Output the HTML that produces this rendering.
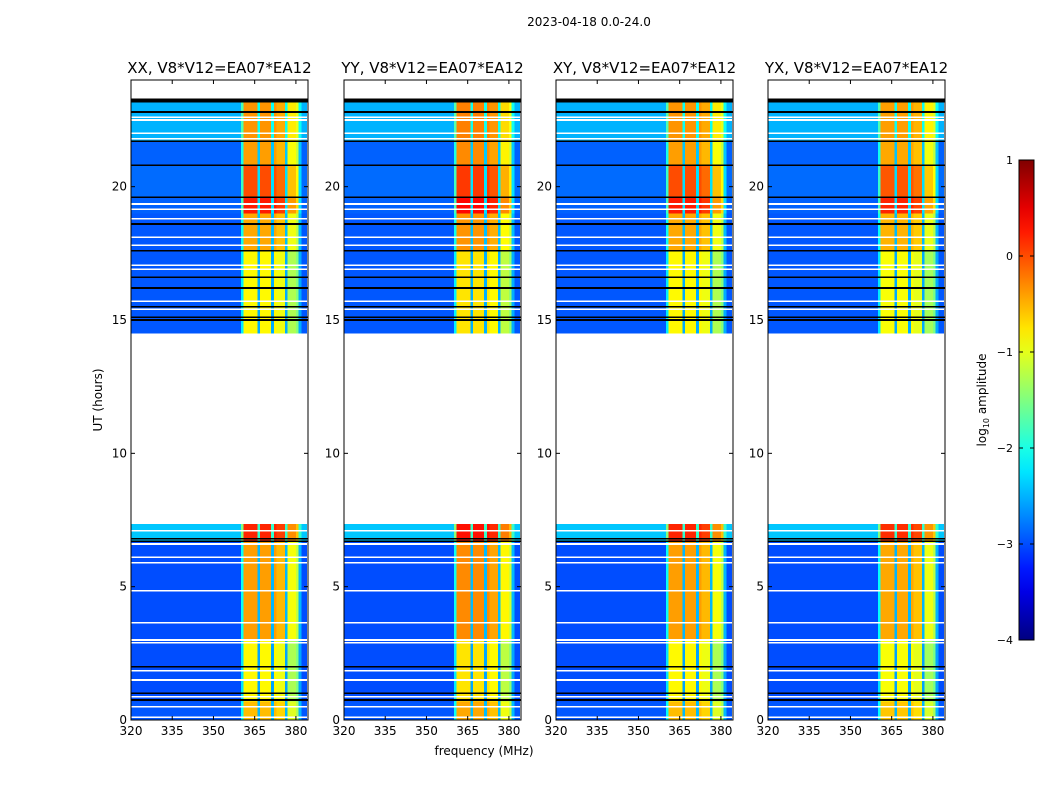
<!DOCTYPE html>
<html><head><meta charset="utf-8"><style>
body{margin:0;background:#fff;}
svg{display:block;font-family:"DejaVu Sans","Liberation Sans",sans-serif;}
</style></head><body>
<svg id="fig" width="1050" height="800" viewBox="0 0 1050 800" xmlns="http://www.w3.org/2000/svg">
<rect width="1050" height="800" fill="#fff"/>
<text x="589" y="26" font-size="12" text-anchor="middle">2023-04-18 0.0-24.0</text>
<text transform="translate(102,400) rotate(-90)" font-size="12" text-anchor="middle">UT (hours)</text>
<text x="484" y="755" font-size="12" text-anchor="middle">frequency (MHz)</text>
<g id="panels"></g>
<g id="cbar"></g>
</svg>
<script>
// ---- data ----
const panelTitles = ["XX, V8*V12=EA07*EA12","YY, V8*V12=EA07*EA12","XY, V8*V12=EA07*EA12","YX, V8*V12=EA07*EA12"];
const panelBandAdj = [0, 0.1, 0, -0.05];
// time blocks: [startHour, endHour, baseline log-amp, band log-amp]
const blockStart = [0.0, 0.7, 3.0, 6.7, 14.5, 17.6, 19.0, 19.6, 20.8, 21.7];
const blockEnd   = [0.7, 3.0, 6.7, 7.35, 17.6, 19.0, 19.6, 20.8, 21.7, 23.25];
const blockBase  = [-2.95, -3.0, -3.0, -2.4, -2.95, -2.95, -2.9, -2.85, -2.9, -2.5];
const blockBand  = [-0.55, -0.85, -0.4, 0.2, -0.85, -0.45, 0.25, 0.0, -0.4, -0.35];
// channel profile (1 MHz bins from 320 to 384): band weight
const chanFreq = [];
for (let f = 320; f < 384; f++) chanFreq.push(f);
const chanWeight = [
 0,0,0,0,0,0,0,0,0,0, 0,0,0,0,0,0,0,0,0,0,
 0,0,0,0,0,0,0,0,0,0, 0,0,0,0,0,0,0,0,0,0,
 0.35,1,1,1,1,1,0.2,1,1,1, 1,0.2,1,0.95,0.95,0.95,0.2,0.8,0.8,0.8,
 0.7,0.2,0,0];
// flagged rows (hours)
const whiteFlags = [0.1,0.5,0.87,1.5,1.85,2.9,3.0,3.65,4.85,5.9,6.1,6.6,7.1,15.4,15.7,16.9,17.05,17.8,18.1,18.8,19.15,19.35,21.8,22.0,22.5,22.6];
const blackFlags = [0.75,1.0,2.0,6.7,6.8,15.0,15.1,15.5,16.2,16.6,17.6,18.6,19.6,20.8,21.7,22.8];
const xTicks = [320,335,350,365,380];
const yTicks = [0,5,10,15,20];
const cbarTicks = [-4,-3,-2,-1,0,1];

// ---- helpers ----
const NS = "http://www.w3.org/2000/svg";
function mk(tag, attrs, parent){const e=document.createElementNS(NS,tag);for(const k in attrs)e.setAttribute(k,attrs[k]);parent.appendChild(e);return e;}
function jet(v){let t=(v+4)/5;t=Math.max(0,Math.min(1,t));
 const c=x=>Math.round(255*Math.max(0,Math.min(1,x)));
 const r=c(Math.min(4*t-1.5,-4*t+4.5)),g=c(Math.min(4*t-0.5,-4*t+3.5)),b=c(Math.min(4*t+0.5,-4*t+2.5));
 return `rgb(${r},${g},${b})`;}
const panelX = [131,344,556,768], PW = 177, PY0 = 80, PY1 = 720;
const fMin = 320, fMax = 384.4;
const yOf = h => PY1 - (h/24)*(PY1-PY0);
const panels = document.getElementById("panels");

panelTitles.forEach((title, p) => {
 const x0 = panelX[p];
 const xOf = f => x0 + (f - fMin)/(fMax - fMin)*PW;
 const g = mk("g", {}, panels);
 
 
 const img = mk("g", {"shape-rendering":"crispEdges"}, g);
 
 
 for (let b = 0; b < blockStart.length; b++) {
  const yT = yOf(blockEnd[b]), yB = yOf(blockStart[b]);
  for (let c = 0; c < chanFreq.length; c++) {
   const band = blockBand[b] + panelBandAdj[p];
   const v = blockBase[b] + chanWeight[c]*(band - blockBase[b]);
   const x1 = xOf(chanFreq[c]), x2 = Math.min(xOf(chanFreq[c]+1), x0+PW);
   const r = mk("rect", {x:x1, y:yT, width:x2-x1+0.3, height:yB-yT, fill:jet(v)}, img);
   
   
  }
 }
 whiteFlags.forEach(h => {const l=mk("rect",{x:x0,y:yOf(h)-0.8,width:PW,height:1.6,fill:"#fff"},img);
  
  });
 blackFlags.forEach(h => {const l=mk("rect",{x:x0,y:yOf(h)-0.8,width:PW,height:1.6,fill:"#000"},img);
  
  });
 const top = mk("rect",{x:x0,y:yOf(23.3),width:PW,height:4,fill:"#000"},img);
 
 
 const fr = mk("rect",{x:x0,y:PY0,width:PW,height:PY1-PY0,fill:"none",stroke:"#000","stroke-width":1},g);
 
 
 const t = mk("text",{x:x0+PW/2,y:73,"font-size":15,"text-anchor":"middle"},g); t.textContent = title;
 
 
 xTicks.forEach(f => {const x=xOf(f);
  mk("line",{x1:x,x2:x,y1:PY1,y2:PY1-4,stroke:"#000"},g); mk("line",{x1:x,x2:x,y1:PY0,y2:PY0+4,stroke:"#000"},g);
  const tl=mk("text",{x:x,y:PY1+15,"font-size":12,"text-anchor":"middle"},g); tl.textContent=f;
  
  });
 yTicks.forEach(h => {const y=yOf(h);
  mk("line",{x1:x0,x2:x0+4,y1:y,y2:y,stroke:"#000"},g); mk("line",{x1:x0+PW,x2:x0+PW-4,y1:y,y2:y,stroke:"#000"},g);
  const tl=mk("text",{x:x0-4,y:y+4,"font-size":12,"text-anchor":"end"},g); tl.textContent=h;
  
  });
});

// colorbar
const cb = document.getElementById("cbar");


const CX=1019, CW=15, CY0=160, CY1=640;
const defs = mk("defs",{},cb);
const grad = mk("linearGradient",{id:"jg",x1:0,y1:1,x2:0,y2:0},defs);
for (let i=0;i<=20;i++){mk("stop",{offset:i/20,"stop-color":jet(-4+5*i/20)},grad);}
mk("rect",{x:CX,y:CY0,width:CW,height:CY1-CY0,fill:"url(#jg)",stroke:"#000"},cb);
cbarTicks.forEach(v => {const y=CY1-(v+4)/5*(CY1-CY0);
 mk("line",{x1:CX,x2:CX+4,y1:y,y2:y,stroke:"#000"},cb); mk("line",{x1:CX+CW,x2:CX+CW-4,y1:y,y2:y,stroke:"#000"},cb);
 const tl=mk("text",{x:1013,y:y+4,"font-size":11,"text-anchor":"end"},cb); tl.textContent=(v<0?"\u2212"+(-v):v);
 
 });
const cl = mk("text",{transform:"translate(986,400) rotate(-90)","font-size":12,"text-anchor":"middle"},cb);
cl.innerHTML = 'log<tspan font-size="8" dy="3">10</tspan><tspan dy="-3"> amplitude</tspan>';


</script>
</body></html>
